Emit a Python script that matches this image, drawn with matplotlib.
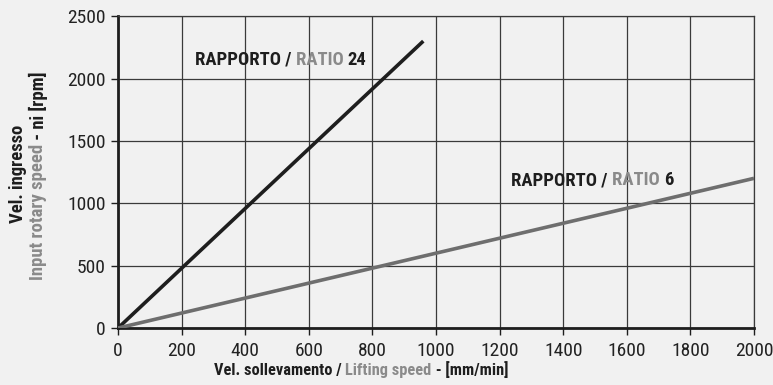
import numpy as np
import matplotlib.pyplot as plt

# Data
lift_speed_24 = [0, 960]        # mm/min
rpm_24 = [0, 2300]              # rpm
lift_speed_6 = [0, 2000]
rpm_6 = [0, 1200]
x_ticks = list(range(0, 2001, 200))
y_ticks = list(range(0, 2501, 500))

plt.rcParams['font.family'] = ['Roboto Condensed', 'DejaVu Sans']

DARK = '#1e1e1e'
GREY = '#8a8a8a'
BG = '#f1f1f1'
LABEL_SIZE = 13.4

fig = plt.figure(figsize=(7.73, 3.85), dpi=100, facecolor=BG)
ax = fig.add_axes([0.1527, 0.148, 0.8227, 0.810])
ax.set_facecolor(BG)

ax.plot(lift_speed_24, rpm_24, color=DARK, lw=2.6, solid_capstyle='butt', zorder=3)
ax.plot(lift_speed_6, rpm_6, color='#6e6e6e', lw=2.6, solid_capstyle='butt', zorder=3)

ax.set_xlim(0, 2000)
ax.set_ylim(0, 2500)
ax.set_xticks(x_ticks)
ax.set_yticks(y_ticks)
ax.grid(True, color='#3a3a3a', lw=0.9)
ax.set_axisbelow(True)
for s in ['top', 'right']:
    ax.spines[s].set_color('#3a3a3a')
    ax.spines[s].set_linewidth(0.9)
for s in ['left', 'bottom']:
    ax.spines[s].set_color(DARK)
    ax.spines[s].set_linewidth(2)
ax.tick_params(direction='out', length=5, width=1, color=DARK,
               labelsize=14, labelcolor='#222222')
ax.tick_params(axis='x', pad=5)
ax.tick_params(axis='y', pad=4)


def segs(x, y, parts, coords='data', rotation=0, size=LABEL_SIZE):
    """Draw a string made of coloured pieces one after another."""
    prev = None
    for txt, col in parts:
        kw = dict(color=col, fontsize=size, fontweight='bold',
                  rotation=rotation, annotation_clip=False)
        if prev is None:
            prev = ax.annotate(txt, xy=(x, y), xycoords=coords,
                               va='center' if rotation == 0 else 'bottom',
                               ha='left' if rotation == 0 else 'center', **kw)
        elif rotation == 0:
            prev = ax.annotate(txt, xy=(1, 0), xycoords=prev,
                               va='bottom', ha='left', **kw)
        else:
            prev = ax.annotate(txt, xy=(0, 1), xycoords=prev,
                               va='bottom', ha='left', **kw)
    return prev


segs(242, 2150, [('RAPPORTO / ', DARK), ('RATIO ', GREY), ('24', DARK)])
segs(1236, 1186, [('RAPPORTO / ', DARK), ('RATIO ', GREY), ('6', DARK)])

# x label (pixel positions from the top-left of the figure)
segs(214 / 773, 1 - 370 / 385,
     [('Vel. sollevamento / ', DARK), ('Lifting speed', GREY), (' - [mm/min]', DARK)],
     coords='figure fraction', size=11.8)

# y label, two lines
segs(18 / 773, 1 - 223 / 385, [('Vel. ingresso', DARK)],
     coords='figure fraction', rotation=90)
segs(38 / 773, 1 - 280 / 385,
     [('Input rotary speed', GREY), (' - ni [rpm]', DARK)],
     coords='figure fraction', rotation=90)

fig.savefig('out.png', dpi=100, facecolor=BG)
